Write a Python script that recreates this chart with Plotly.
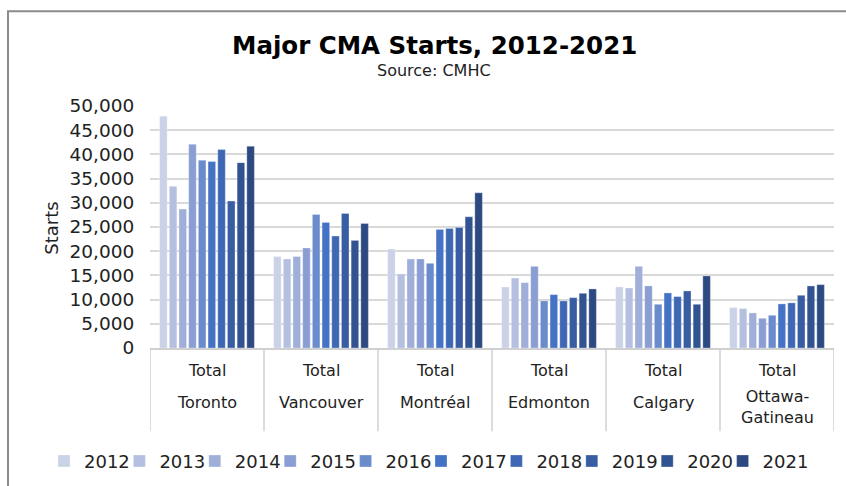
import plotly.graph_objects as go

cities = ["Toronto", "Vancouver", "Montréal", "Edmonton", "Calgary", "Ottawa-Gatineau"]
city_labels = ["Toronto", "Vancouver", "Montréal", "Edmonton", "Calgary", "Ottawa-<br>Gatineau"]
years = ["2012", "2013", "2014", "2015", "2016", "2017", "2018", "2019", "2020", "2021"]

s2012 = [47900, 18900, 20450, 12600, 12620, 8350]
s2013 = [33400, 18400, 15300, 14470, 12400, 8140]
s2014 = [28700, 18900, 18400, 13500, 16870, 7250]
s2015 = [42100, 20660, 18400, 16870, 12820, 6140]
s2016 = [38800, 27600, 17500, 9730, 9030, 6760]
s2017 = [38520, 25940, 24500, 11030, 11380, 9110]
s2018 = [41000, 23130, 24700, 9730, 10620, 9320]
s2019 = [30350, 27800, 24900, 10410, 11790, 10890]
s2020 = [38300, 22230, 27100, 11300, 9030, 12820]
s2021 = [41700, 25740, 32060, 12200, 14890, 13090]
series = [s2012, s2013, s2014, s2015, s2016, s2017, s2018, s2019, s2020, s2021]

colors = ["#CBD2E8", "#B5C0E0", "#A0AFD9", "#8A9ED3", "#6A8BCC",
          "#4472C4", "#3E67B4", "#395DA3", "#325392", "#2C4982"]

W, H = 846, 486
L, R, T, B = 150, 12, 106, 137.5
PW, PH = W - L - R, H - T - B


def px2x(px):
    return (px - L) / PW


def px2y(py):
    return (H - B - py) / PH


FONT = "DejaVu Sans"
TXT = "#222222"
LEG_X = 44
LEG_STEP = 75.4

fig = go.Figure()
legends = {}
for i, (yr, vals, col) in enumerate(zip(years, series, colors)):
    key = "legend" if i == 0 else f"legend{i + 1}"
    fig.add_trace(go.Bar(
        x=cities, y=vals, name=yr, legend=key,
        marker=dict(color=col, line=dict(color="rgba(255,255,255,0.6)", width=0.5)),
    ))
    legends[key] = dict(
        orientation="h", x=px2x(LEG_X + i * LEG_STEP), xanchor="left",
        y=px2y(462), yanchor="middle",
        font=dict(size=18, family=FONT, color=TXT),
        itemwidth=30, bgcolor="rgba(0,0,0,0)",
    )

fig.update_layout(
    width=W, height=H,
    margin=dict(l=L, r=R, t=T, b=B, pad=0, autoexpand=False),
    paper_bgcolor="white", plot_bgcolor="white",
    barmode="group", bargap=0.15, bargroupgap=0.22,
    font=dict(family=FONT, color=TXT),
    showlegend=True,
    xaxis=dict(
        type="category", showticklabels=False, showgrid=False, automargin=False,
        showline=True, linecolor="#D0D0D0", linewidth=1.5, zeroline=False,
        range=[-0.5, 5.5], fixedrange=True,
    ),
    yaxis=dict(
        range=[0, 50000], dtick=5000, tickformat=",", automargin=False,
        showgrid=True, gridcolor="#D9D9D9", gridwidth=1.5,
        zeroline=False, showline=False,
        tickfont=dict(size=18.5, family=FONT, color=TXT),
        ticks="outside", ticklen=11, tickcolor="rgba(0,0,0,0)",
    ),
    **legends,
)

# Title, subtitle, y-axis title
fig.add_annotation(text="<b>Major CMA Starts, 2012-2021</b>", xref="paper", yref="paper",
                   x=px2x(434), y=px2y(45), xanchor="center", yanchor="middle",
                   showarrow=False, font=dict(size=24.5, family=FONT, color="#000000"))
fig.add_annotation(text="Source: CMHC", xref="paper", yref="paper",
                   x=px2x(434), y=px2y(70), xanchor="center", yanchor="middle",
                   showarrow=False, font=dict(size=16, family=FONT, color=TXT))
fig.add_annotation(text="Starts", xref="paper", yref="paper",
                   x=px2x(52), y=px2y(229), xanchor="center", yanchor="middle",
                   textangle=-90, showarrow=False, font=dict(size=18, family=FONT, color=TXT))

# Multi-level category labels
for c, lab in zip(cities, city_labels):
    fig.add_annotation(text="Total", xref="x", yref="paper", x=c, y=px2y(371),
                       xanchor="center", yanchor="middle", showarrow=False,
                       font=dict(size=16, family=FONT, color=TXT))
    two = "<br>" in lab
    fig.add_annotation(text=lab, xref="x", yref="paper", x=c,
                       y=px2y(408 if two else 403),
                       xanchor="center", yanchor="middle", showarrow=False,
                       font=dict(size=16, family=FONT, color=TXT))

# Category dividers
for i in range(len(cities) + 1):
    fig.add_shape(type="line", xref="x", yref="paper", x0=i - 0.5, x1=i - 0.5,
                  y0=0, y1=px2y(432), line=dict(color="#D0D0D0", width=1.5))

# Chart frame
fig.add_shape(type="rect", xref="paper", yref="paper",
              x0=px2x(8), x1=px2x(870), y0=px2y(11), y1=px2y(510),
              line=dict(color="#8C8C8C", width=2), layer="below")

fig.write_html(
    "out.html",
    config={"displayModeBar": False},
    post_script="document.body.style.margin='0px';document.body.style.overflow='hidden';",
)
